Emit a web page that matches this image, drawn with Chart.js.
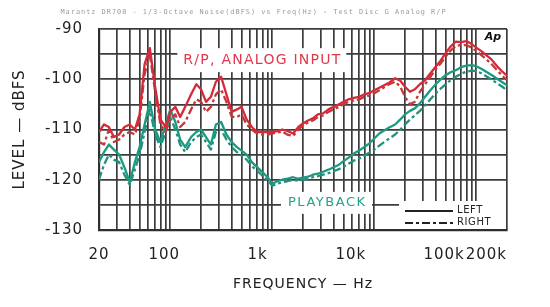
<!DOCTYPE html>
<html><head><meta charset="utf-8">
<script src="https://cdn.jsdelivr.net/npm/chart.js@4/dist/chart.umd.min.js"></script>
<style>html,body{margin:0;padding:0;background:#fff}#wrap{width:550px;height:307px}</style>
</head><body><div id="wrap"><canvas id="c" width="550" height="307"></canvas></div>
<script>
// ---- data ----
const freqHz = [20,22.4,25,28,31.5,35.5,40,45,50,56,
  63,71,80,90,100,112,125,140,160,180,
  200,224,250,280,315,355,400,450,500,560,
  630,710,800,900,1000,1120,1250,1400,1600,1800,
  2000,2240,2500,2800,3150,3550,4000,4500,5000,5600,
  6300,7100,8000,9000,10000,11200,12500,14000,16000,18000,
  20000,22400,25000,28000,31500,35500,40000,45000,50000,56000,
  63000,71000,80000,90000,100000,112000,125000,140000,160000,180000,
  200000];
const rpLeft = [-110.5,-109,-109.5,-111.5,-111,-109.5,-109,-110,-107,-97,
  -93.8,-101.5,-108,-109.5,-106.5,-105.5,-107.5,-105.5,-103,-101,
  -102,-104.5,-103.5,-100.5,-99.5,-103,-106.5,-106,-105.5,-108,
  -109.5,-110.5,-110.5,-110.5,-110.5,-110.3,-110,-110.3,-110.8,-109.5,
  -108.8,-108.2,-107.8,-107,-106.8,-106,-105.5,-105,-104.5,-104,
  -103.7,-103.5,-103,-102.7,-102.2,-101.7,-101.2,-100.7,-99.8,-100.3,
  -101.5,-102.5,-102,-101,-100.2,-98.8,-97.5,-96.2,-94.8,-93.5,
  -92.5,-92.6,-92.4,-93,-93.7,-94.4,-95.2,-96,-97.4,-98.5,
  -99.3];
const rpRight = [-112.5,-113,-110,-112.5,-112,-111,-110.5,-111,-108,-99,
  -95,-102.5,-109,-110.5,-108,-107,-109.5,-108.5,-106,-104,
  -104.5,-106.5,-105.5,-103,-102,-104.5,-107.5,-107.5,-107,-109,
  -110,-110.8,-111,-111,-110.8,-110.6,-110.4,-111,-111.3,-110,
  -109.2,-108.6,-108.2,-107.5,-107.2,-106.5,-106,-105.5,-105,-104.5,
  -104.2,-104,-103.5,-103.2,-102.8,-102.2,-101.6,-101,-100.5,-101.5,
  -103.5,-105,-104.5,-102.5,-101,-99.5,-98,-96.8,-95.5,-94.3,
  -93.4,-93.2,-93.2,-93.7,-94.4,-95.2,-96,-96.9,-98.2,-99.3,
  -100.2];
const pbLeft = [-116.5,-114.5,-113,-114,-115,-117.5,-120.5,-116.5,-113.5,-109,
  -104.5,-110,-112.5,-109,-106,-108.5,-112,-113.5,-111.5,-110.5,
  -110,-111.5,-113,-109,-108.5,-111,-112.5,-113.5,-114.2,-115,
  -116.5,-117.5,-118.5,-119.5,-120.8,-120.3,-120,-119.8,-119.5,-119.8,
  -119.6,-119.4,-119,-118.8,-118.4,-118,-117.5,-117,-116.3,-115.6,
  -114.8,-114.2,-113.5,-112.7,-111.8,-110.8,-110.2,-109.6,-109,-108,
  -107,-106.3,-105.8,-104.8,-103.5,-102.2,-101,-100,-99.2,-98.6,
  -98.2,-97.6,-97.3,-97.2,-97.4,-97.9,-98.5,-99.1,-99.9,-100.6,
  -101.2];
const pbRight = [-120,-117,-115,-116,-116.5,-119,-121,-118,-115,-110.5,
  -106,-111,-113.5,-110.5,-107.5,-110,-113,-114.5,-112.5,-111.5,
  -111,-112.5,-114,-110.5,-110,-112,-113.5,-114.5,-115.2,-116,
  -117.3,-118.2,-119.2,-120,-121.2,-120.8,-120.5,-120.3,-120,-120.2,
  -120,-119.8,-119.5,-119.3,-119,-118.7,-118.3,-117.9,-117.4,-116.8,
  -116.2,-115.8,-115.2,-114.6,-114,-113.2,-112.5,-111.8,-111,-110,
  -109,-108,-107.2,-106.3,-105.2,-104,-102.8,-101.8,-101,-100.2,
  -99.5,-98.9,-98.5,-98.3,-98.4,-98.8,-99.4,-100,-100.8,-101.5,
  -102.2];
const yTickValues = [-90,-100,-110,-120,-130];
const xTickValues = [20,100,1000,10000,100000];
const xTickLabels = ['20','100','1k','10k','100k'];
const xEndTickValues = [200000];
const xEndTickLabels = ['200k'];
const headerText = 'Marantz DR700 - 1/3-Octave Noise(dBFS) vs Freq(Hz) - Test Disc G Analog R/P';

// ---- styling ----
const RED = '#d42a3a', RED2 = '#c4383a', TEAL = '#1b9a80', TEAL2 = '#23907d';
const GRID = '#3c3c3c';
const DASH = [8,3,3,3];

// minor log grid values 20..200k
const gridValues = [];
for (let d = 10; d <= 100000; d *= 10) for (let m = 1; m <= 9; m++) {
  const v = m * d; if (v >= 20 && v <= 200000) gridValues.push(v);
}

const pts = arr => freqHz.map((f, i) => ({x: f, y: arr[i]}));

const notes = [
  {text: 'R/P, ANALOG INPUT', freq: 790, level: -96.2, color: '#e0384e', font: '14px "DejaVu Sans"', width: 157, padX: 6, padY: 12},
  {text: 'PLAYBACK', freq: 3400, level: -124.6, color: '#22a38b', font: '13px "DejaVu Sans"', width: 77, padX: 7, padY: 11}
];

function fitSpacing(ctx, n) {
  ctx.font = n.font; ctx.letterSpacing = '0px';
  const w0 = ctx.measureText(n.text).width;
  return Math.max(0, (n.width - w0) / (n.text.length - 1));
}

const notesPlugin = {
  id: 'notes',
  beforeLayout(chart) { chart.ctx.letterSpacing = '1px'; },
  beforeDraw(chart) { chart.ctx.letterSpacing = '1px'; },
  beforeDatasetsDraw(chart) {
    const {ctx, chartArea: a, scales: {x, y}} = chart;
    ctx.save();
    ctx.fillStyle = '#fff';
    for (const n of notes) {
      const cx = x.getPixelForValue(n.freq), cy = y.getPixelForValue(n.level);
      ctx.fillRect(cx - n.width / 2 - n.padX, cy - n.padY, n.width + 2 * n.padX, 2 * n.padY);
    }
    ctx.fillRect(a.right - 108, a.bottom - 29, 107, 28);
    ctx.restore();
  },
  afterDatasetsDraw(chart) {
    const {ctx, chartArea: a, scales: {x, y}} = chart;
    ctx.save();
    ctx.textBaseline = 'middle';
    for (const n of notes) {
      const sp = fitSpacing(ctx, n);
      ctx.letterSpacing = sp + 'px';
      ctx.fillStyle = n.color;
      ctx.textAlign = 'left';
      const cx = x.getPixelForValue(n.freq), cy = y.getPixelForValue(n.level);
      ctx.fillText(n.text, cx - n.width / 2, cy);
    }
    // legend LEFT / RIGHT
    ctx.strokeStyle = '#222'; ctx.lineWidth = 1.8; ctx.fillStyle = '#222';
    ctx.font = '10px "DejaVu Sans"'; ctx.letterSpacing = '0.6px'; ctx.textAlign = 'left';
    const lx0 = a.right - 102, lx1 = a.right - 54;
    const rows = [{label: 'LEFT', dash: [], dy: 20}, {label: 'RIGHT', dash: DASH, dy: 8}];
    for (const r of rows) {
      const yy = a.bottom - r.dy;
      ctx.setLineDash(r.dash);
      ctx.beginPath(); ctx.moveTo(lx0, yy + 1); ctx.lineTo(lx1, yy + 1); ctx.stroke();
      ctx.fillText(r.label, a.right - 50, yy);
    }
    ctx.setLineDash([]);
    // Ap logo
    ctx.font = 'italic bold 11px "DejaVu Sans"'; ctx.letterSpacing = '0px';
    ctx.fillStyle = '#111'; ctx.textAlign = 'center';
    ctx.fillText('Ap', a.right - 14, a.top + 8);
    ctx.restore();
  }
};

const mk = (label, arr, color, dash) => ({
  label, data: pts(arr), borderColor: color, borderWidth: 2.3, borderDash: dash,
  pointRadius: 0, tension: 0, fill: false, borderJoinStyle: 'round'
});

const tickFont = {family: '"DejaVu Sans"', size: 15};

new Chart(document.getElementById('c'), {
  type: 'line',
  data: {
    datasets: [
      mk('R/P, Analog Input — Left', rpLeft, RED, []),
      mk('R/P, Analog Input — Right', rpRight, RED2, DASH),
      mk('Playback — Left', pbLeft, TEAL, []),
      mk('Playback — Right', pbRight, TEAL2, DASH)
    ]
  },
  options: {
    responsive: false,
    devicePixelRatio: 1,
    animation: false,
    layout: {padding: {left: 0, right: 43, top: 0, bottom: 0}},
    plugins: {
      legend: {display: false},
      tooltip: {enabled: false},
      title: {
        display: true, text: headerText, color: '#9a9a9a',
        font: {family: '"DejaVu Sans Mono"', size: 6.9, weight: 'normal'},
        padding: {top: 8, bottom: 12.7}
      }
    },
    scales: {
      x: {
        type: 'logarithmic', min: 20, max: 200000, weight: 0,
        afterBuildTicks: s => { s.ticks = gridValues.map(v => ({value: v})); },
        afterFit: s => { s.height = 0; },
        ticks: {display: false},
        grid: {color: GRID, lineWidth: 1.7, drawTicks: false},
        border: {color: '#2e2e2e', width: 2.2}
      },
      x2: {
        type: 'logarithmic', position: 'bottom', min: 20, max: 472000, weight: 1,
        afterBuildTicks: s => { s.ticks = xTickValues.map(v => ({value: v})); },
        afterFit: s => { s.height = 77; },
        ticks: {
          autoSkip: false, maxRotation: 0, padding: 8, color: '#222',
          font: tickFont,
          callback: (v) => { const i = xTickValues.indexOf(v); return i >= 0 ? xTickLabels[i] : ''; }
        },
        grid: {display: false},
        border: {display: false},
        title: {display: true, text: 'FREQUENCY — Hz', color: '#222',
          font: {family: '"DejaVu Sans"', size: 14}, padding: {top: 0, bottom: 14}}
      },
      xEnd: {
        type: 'logarithmic', position: {y: -130}, min: 20, max: 200000,
        afterBuildTicks: s => { s.ticks = xEndTickValues.map(v => ({value: v})); },
        ticks: {
          autoSkip: false, maxRotation: 0, padding: 8, color: '#222', align: 'end',
          font: tickFont,
          callback: (v) => { const i = xEndTickValues.indexOf(v); return i >= 0 ? xEndTickLabels[i] : ''; }
        },
        grid: {display: false},
        border: {display: false}
      },
      y: {
        type: 'linear', min: -130, max: -90,
        afterFit: s => { s.width = 99; },
        ticks: {
          stepSize: 5, padding: 16, color: '#222',
          font: tickFont,
          callback: (v) => yTickValues.includes(v) ? String(v) : ''
        },
        grid: {color: GRID, lineWidth: 1.7, drawTicks: false},
        border: {color: '#2e2e2e', width: 2.2},
        title: {display: true, text: 'LEVEL — dBFS', color: '#222',
          font: {family: '"DejaVu Sans"', size: 15}, padding: {top: 11, bottom: 0}}
      }
    }
  },
  plugins: [notesPlugin]
});
</script>
</body></html>
